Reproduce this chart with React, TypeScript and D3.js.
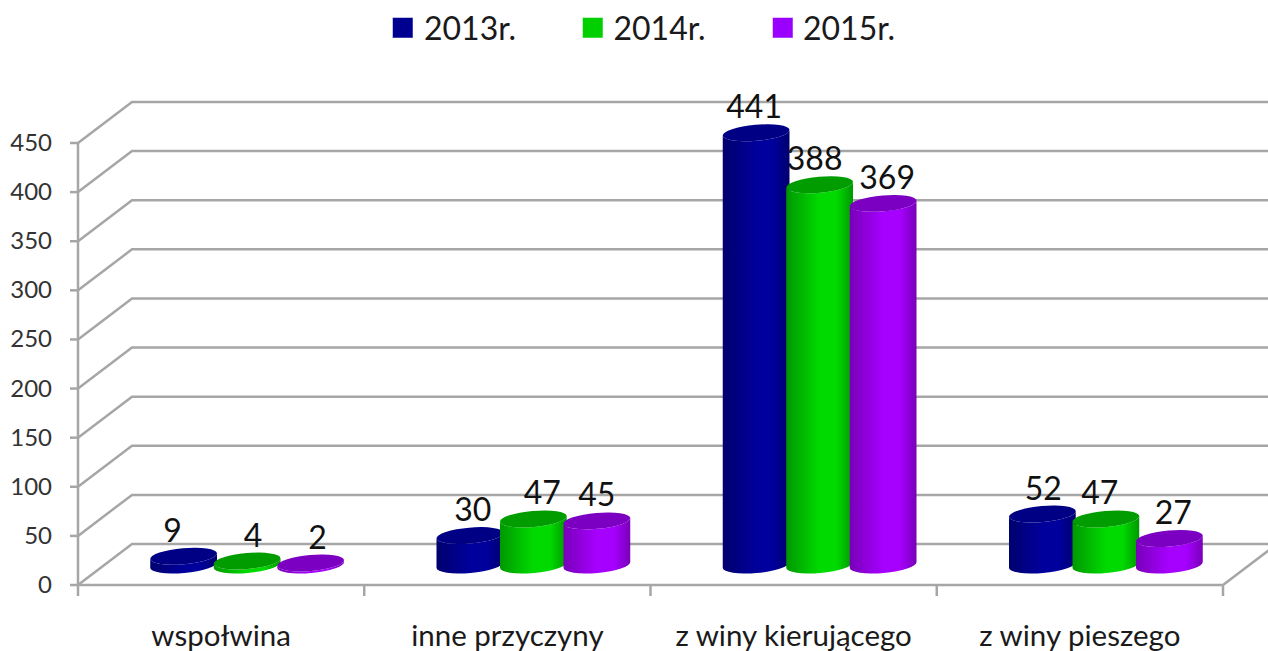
import React from 'react';
import * as d3 from 'd3';

const categories = ['wspołwina', 'inne przyczyny', 'z winy kierującego', 'z winy pieszego'];
const seriesNames = ['2013r.', '2014r.', '2015r.'];
const values2013 = [9, 30, 441, 52];
const values2014 = [4, 47, 388, 47];
const values2015 = [2, 45, 369, 27];
const seriesValues = [values2013, values2014, values2015];
const yTicks = [0, 50, 100, 150, 200, 250, 300, 350, 400, 450];

const palette = [
  { edge: '#00006e', mid: '#00009c', top: '#000084', legend: '#000090' },
  { edge: '#009800', mid: '#00da00', top: '#009c00', legend: '#00d000' },
  { edge: '#7800b8', mid: '#a600ff', top: '#7c00c2', legend: '#9900ff' }
];

// hand nudges so the data labels sit where the original ones do
const labelNudge = [
  [-11, 6, 7],
  [3, 9, 0],
  [-2, -5, 4],
  [1, -6, 4]
];

const width = 1268;
const height = 651;
const depthX = 54;
const depthY = 41;
const rx = 33.5;
const ry = 8;
const tilt = -5;
const gridColor = '#a6a6a6';
const font = 'Lato, Carlito, sans-serif';

const x = d3.scaleBand().domain(categories).range([78, 1223]);
const y = d3.scaleLinear().domain([0, 450]).range([585, 143]);
const barY = d3.scaleLinear().domain([0, 450]).range([565, 124]);
const seriesX = d3.scaleLinear().domain([0, 1, 2]).range([-37.5, 26, 89.5]);
const legendSquareX = d3.scaleLinear().domain([0, 2]).range([392.5, 772.5]);
const legendTextX = d3.scaleLinear().domain([0, 2]).range([424, 803]);

const cosT = Math.cos((tilt * Math.PI) / 180);
const sinT = Math.sin((tilt * Math.PI) / 180);

const cylinderBody = (cx: number, top: number, bottom: number) => {
  const dx = rx * cosT;
  const dy = rx * sinT;
  return `M${cx - dx},${top - dy} L${cx - dx},${bottom - dy} A${rx},${ry} ${tilt} 0 0 ${cx + dx},${bottom + dy} L${cx + dx},${top + dy} A${rx},${ry} ${tilt} 0 1 ${cx - dx},${top - dy} Z`;
};

export default function App() {
  const bandStart = x.range()[0];
  const tickXs = d3.range(categories.length + 1).map(i => bandStart + i * x.step());
  const floorRight = tickXs[tickXs.length - 1];

  return (
    <svg
      width={width}
      height={height}
      viewBox={`0 0 ${width} ${height}`}
      style={{ position: 'absolute', left: 0, top: 0, background: '#fff', fontFamily: font }}
    >
      <defs>
        {palette.map((c, i) => (
          <linearGradient key={i} id={`body-${i}`} x1="0" x2="1" y1="0" y2="0">
            <stop offset="0" stopColor={c.edge} />
            <stop offset="0.5" stopColor={c.mid} />
            <stop offset="0.75" stopColor={c.mid} />
            <stop offset="1" stopColor={c.edge} />
          </linearGradient>
        ))}
      </defs>

      {/* Legend */}
      {seriesNames.map((name, i) => (
        <g key={name}>
          <rect x={legendSquareX(i)} y={17.5} width={20.5} height={20.5} fill={palette[i].legend} stroke="#fff" strokeOpacity={0.5} />
          <text x={legendTextX(i)} y={40} fontSize={32} fill="#1a1a1a">{name}</text>
        </g>
      ))}

      {/* Walls */}
      {yTicks.map(t => (
        <g key={t} stroke={gridColor} strokeWidth={2.5} fill="none">
          <line x1={70} x2={78} y1={y(t)} y2={y(t)} />
          <polyline points={`78,${y(t)} ${78 + depthX},${y(t) - depthY} ${width},${y(t) - depthY}`} />
        </g>
      ))}
      <line x1={78} x2={78} y1={y(450)} y2={596} stroke={gridColor} strokeWidth={2.5} />
      <polyline
        points={`78,${y(0)} ${floorRight},${y(0)} ${floorRight + depthX},${y(0) - depthY}`}
        stroke={gridColor}
        strokeWidth={2.5}
        fill="none"
      />
      {tickXs.slice(1).map(t => (
        <line key={t} x1={t} x2={t} y1={y(0)} y2={596} stroke={gridColor} strokeWidth={2.5} />
      ))}

      {/* Y axis labels */}
      {yTicks.map(t => (
        <text key={t} x={52} y={y(t) + 8} textAnchor="end" fontSize={24} fill="#333">{t}</text>
      ))}

      {/* Category labels */}
      {categories.map(c => (
        <text key={c} x={(x(c) as number) + x.bandwidth() / 2} y={646} textAnchor="middle" fontSize={29.5} fill="#1a1a1a">{c}</text>
      ))}

      {/* Data labels go under the bars, the 2013 bar cuts into 388 in the original */}
      {categories.map((c, ci) =>
        seriesValues.map((vals, si) => (
          <text
            key={`${c}-${si}`}
            x={(x(c) as number) + x.bandwidth() / 2 + seriesX(si) + labelNudge[ci][si]}
            y={barY(vals[ci]) - 14.5}
            textAnchor="middle"
            fontSize={32}
            fill="#111"
          >
            {vals[ci]}
          </text>
        ))
      )}

      {/* Cylinders */}
      {seriesValues.map((vals, si) =>
        categories.map((c, ci) => {
          const cx = (x(c) as number) + x.bandwidth() / 2 + seriesX(si);
          const top = barY(vals[ci]);
          const bottom = barY(0);
          return (
            <g key={`${c}-${si}`}>
              <path d={cylinderBody(cx, top, bottom)} fill={`url(#body-${si})`} />
              <ellipse
                cx={cx}
                cy={top}
                rx={rx}
                ry={ry}
                fill={palette[si].top}
                transform={`rotate(${tilt} ${cx} ${top})`}
              />
            </g>
          );
        })
      )}
    </svg>
  );
}
